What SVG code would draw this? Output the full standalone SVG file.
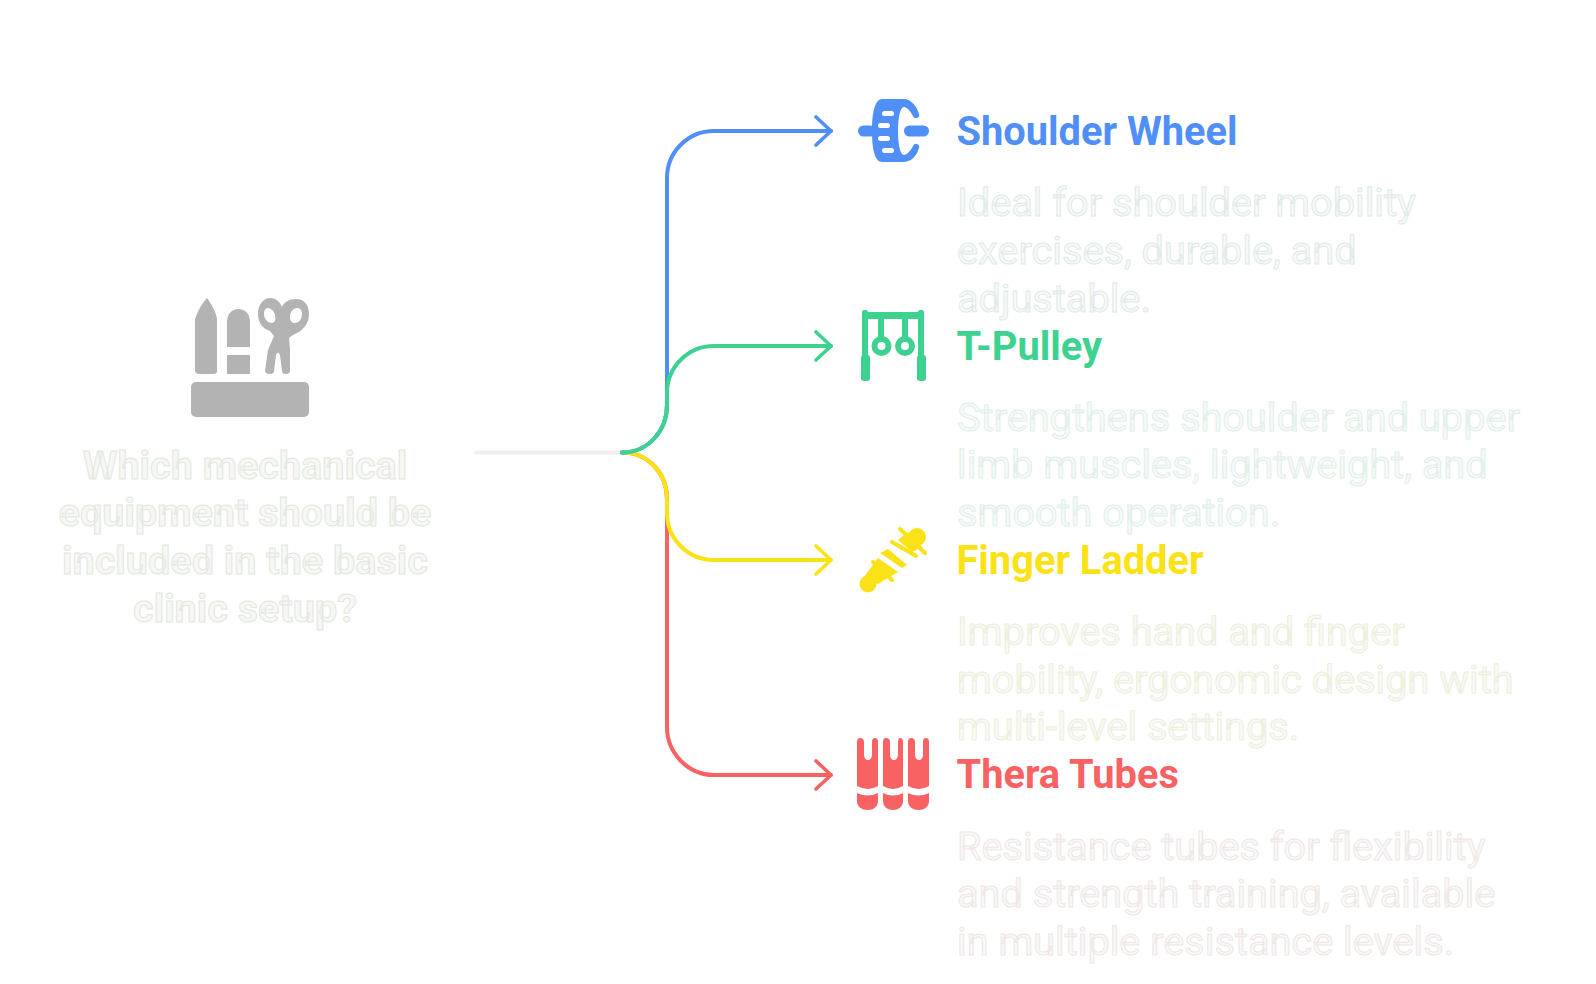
<svg xmlns="http://www.w3.org/2000/svg" width="1596" height="984" viewBox="0 0 1596 984">
<style>
.q{font:700 39.6px Roboto,"Liberation Sans",sans-serif;text-anchor:middle;fill:#f6f8f4;stroke:#e3e7df;stroke-width:1}
.h{font:700 39.8px Roboto,"Liberation Sans",sans-serif}
.d{font:400 39.7px Roboto,"Liberation Sans",sans-serif;fill:#f7faf9;stroke-width:1}
.c{fill:none;stroke-width:4;stroke-linecap:round;stroke-linejoin:round}
</style>
<defs>
<marker id="ab" markerUnits="userSpaceOnUse" viewBox="0 0 20 32" markerWidth="20" markerHeight="32" refX="17" refY="16" orient="auto"><path d="M2 2L17 16L2 30" fill="none" stroke="#4f8ff7" stroke-width="3.6" stroke-linecap="round" stroke-linejoin="round"/></marker>
<marker id="ag" markerUnits="userSpaceOnUse" viewBox="0 0 20 32" markerWidth="20" markerHeight="32" refX="17" refY="16" orient="auto"><path d="M2 2L17 16L2 30" fill="none" stroke="#3dd28f" stroke-width="3.6" stroke-linecap="round" stroke-linejoin="round"/></marker>
<marker id="ay" markerUnits="userSpaceOnUse" viewBox="0 0 20 32" markerWidth="20" markerHeight="32" refX="17" refY="16" orient="auto"><path d="M2 2L17 16L2 30" fill="none" stroke="#fbe216" stroke-width="3.6" stroke-linecap="round" stroke-linejoin="round"/></marker>
<marker id="ar" markerUnits="userSpaceOnUse" viewBox="0 0 20 32" markerWidth="20" markerHeight="32" refX="17" refY="16" orient="auto"><path d="M2 2L17 16L2 30" fill="none" stroke="#f96262" stroke-width="3.6" stroke-linecap="round" stroke-linejoin="round"/></marker>
</defs>
<rect width="1596" height="984" fill="#fff"/>
<g id="connectors">
<path class="c" stroke="#efefed" d="M476 452.500H622"/>
<path class="c" stroke="#f96262" marker-end="url(#ar)" d="M622 452.500C648 452.500 667 473 667 499V727C667 753 688 775 714 775H831"/>
<path class="c" stroke="#fbe216" marker-end="url(#ay)" d="M622 452.500C648 452.500 667 473 667 499V513C667 539 688 560 714 560H831"/>
<path class="c" stroke="#4f8ff7" marker-end="url(#ab)" d="M622 452.500C648 452.500 667 431 667 405V178C667 152 688 131 714 131H831"/>
<path class="c" stroke="#3dd28f" marker-end="url(#ag)" d="M622 452.500C648 452.500 667 431 667 405V393C667 367 688 346 714 346H831"/>
</g>
<g id="root">
<g fill="#b3b3b3">
<path d="M207 298C211 303 217 314 217 320V371Q217 374 214 374H199Q196 374 195 371V320C196 314 202 303 207 298Z"/>
<path d="M227 322C227 314 232 309 238.500 309C245 309 250 314 250 322V347H227Z"/>
<rect x="227" y="355" width="23" height="19"/>
<rect x="191" y="382" width="118" height="35" rx="5"/>
<path fill-rule="evenodd" d="M258 314C258 305 263 298 270 298C276 298 280 302 282 307C284 302 289 299 296 299C304 299 309 305 309 314C309 324 303 331 293 335L289 338L290 349L290 371Q290 374 286 374Q282 374 282 371L280 355Q278 350 276 355L274 371Q274 374 270 374Q265 374 265 371L268 350L274 336L270 331C263 329 258 323 258 314ZM268 308C265 308 264 311 264 314C264 319 268 323 272 323C275 323 276 319 275 315C274 311 271 308 268 308ZM297 308C293 308 290 312 290 317C290 321 292 323 295 323C299 323 302 319 302 314C302 310 300 308 297 308Z"/>
</g>
<text class="q" x="245" y="478.500">Which mechanical</text>
<text class="q" x="245" y="526">equipment should be</text>
<text class="q" x="245" y="573.500">included in the basic</text>
<text class="q" x="245" y="621.500">clinic setup?</text>
</g>
<g id="shoulder-wheel">
<g fill="#4f8ff7">
<rect x="858" y="125.500" width="18" height="11" rx="5.500"/>
<rect x="904" y="125.500" width="25" height="11" rx="5.500"/>
<path d="M882 99H903C912 99 917 107 919 114A3 3 0 0 1 913 116C910 110 906 107 904 107C900 107 898 118 898 131C898 144 900 155 904 155C906 155 910 152 913 146A3 3 0 0 1 919 148C917 155 912 162 903 162H882C874 162 872 146 872 131C872 116 874 99 882 99Z"/>
</g>
<g fill="#fff">
<rect x="882" y="111" width="12" height="5" rx="2.500"/>
<rect x="878" y="123" width="12" height="5" rx="2.500"/>
<rect x="878" y="136" width="12" height="5" rx="2.500"/>
<rect x="882" y="148" width="12" height="5" rx="2.500"/>
</g>
<text class="h" x="956.500" y="145" fill="#4f8ff7">Shoulder Wheel</text>
<g class="d" stroke="#dfeae8">
<text x="957" y="216">Ideal for shoulder mobility</text>
<text x="957" y="264">exercises, durable, and</text>
<text x="957" y="312">adjustable.</text>
</g>
</g>
<g id="t-pulley">
<g fill="#3dd28f">
<rect x="862" y="310" width="6" height="50" rx="2"/>
<rect x="918" y="310" width="6" height="50" rx="2"/>
<rect x="862" y="312" width="62" height="7"/>
<rect x="861" y="355" width="9" height="26" rx="3"/>
<rect x="917" y="355" width="9" height="26" rx="3"/>
<rect x="878" y="316" width="6" height="24"/>
<rect x="902" y="316" width="6" height="24"/>
</g>
<circle cx="881.500" cy="346" r="7" fill="none" stroke="#3dd28f" stroke-width="6"/>
<circle cx="905" cy="346" r="7" fill="none" stroke="#3dd28f" stroke-width="6"/>
<text class="h" x="956.500" y="359.500" fill="#3dd28f">T-Pulley</text>
<g class="d" stroke="#dff0e8">
<text x="957" y="431">Strengthens shoulder and upper</text>
<text x="957" y="478">limb muscles, lightweight, and</text>
<text x="957" y="526">smooth operation.</text>
</g>
</g>
<g id="finger-ladder">
<g fill="#fbe216" stroke="#fbe216" stroke-linecap="round">
<circle cx="917" cy="537" r="9" stroke="none"/>
<circle cx="868" cy="584" r="8.500" stroke="none"/>
<path stroke="none" d="M908 532L922 547L912 552L898 540Z"/>
<path stroke="none" d="M880 553L888 549L907 565L902 568Z"/>
<path stroke="none" d="M878 558L898 572L878 584L864 577Z"/>
<path fill="none" stroke-width="4" d="M900 529L925 553"/>
<path fill="none" stroke-width="4" d="M892 542L916 556"/>
<path fill="none" stroke-width="4" d="M873 562L892 580"/>
</g>
<text class="h" x="956.500" y="574" fill="#fbe216">Finger Ladder</text>
<g class="d" stroke="#eeefd8">
<text x="957" y="645">Improves hand and finger</text>
<text x="957" y="693">mobility, ergonomic design with</text>
<text x="957" y="740">multi-level settings.</text>
</g>
</g>
<g id="thera-tubes">
<g fill="#f96262">
<path d="M857 742Q857 738 860 738Q864 738 864 742V755C864 758 866 760 868 760C870 760 872 758 872 755V742Q872 738 875 738Q878 738 878 742V786Q868 792 857 786Z"/>
<path d="M883 742Q883 738 886 738Q890 738 890 742V755C890 758 892 760 894 760C896 760 898 758 898 755V742Q898 738 900 738Q903 738 903 742V786Q893 792 883 786Z"/>
<path d="M908 742Q908 738 911 738Q915 738 915 742V755C915 758 917 760 919 760C921 760 923 758 923 755V742Q923 738 926 738Q929 738 929 742V786Q919 792 908 786Z"/>
<path d="M857 793Q868 798 878 793V801C878 807 873 810 868 810C862 810 857 807 857 801Z"/>
<path d="M883 793Q893 798 903 793V801C903 807 898 810 893 810C888 810 883 807 883 801Z"/>
<path d="M908 793Q919 798 929 793V801C929 807 924 810 919 810C913 810 908 807 908 801Z"/>
</g>
<text class="h" x="956.500" y="788" fill="#f96262">Thera Tubes</text>
<g class="d" stroke="#f1e6e3">
<text x="957" y="860">Resistance tubes for flexibility</text>
<text x="957" y="907">and strength training, available</text>
<text x="957" y="955">in multiple resistance levels.</text>
</g>
</g>
</svg>
